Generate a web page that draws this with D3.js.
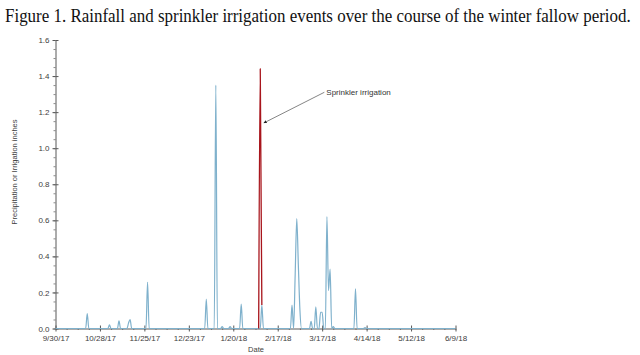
<!DOCTYPE html>
<html><head><meta charset="utf-8">
<script src="https://cdn.jsdelivr.net/npm/d3@7"></script>
<style>html,body{margin:0;padding:0;background:#fff;}svg{display:block;}</style>
</head><body>
<svg id="chart" width="640" height="355"></svg>
<script>
// ---- data ----
const titleText = "Figure 1. Rainfall and sprinkler irrigation events over the course of the winter fallow period.";
const yLabel = "Precipitation or Irrigation inches";
const xLabel = "Date";
const annotationText = "Sprinkler irrigation";
const xTickDates = ["2017-09-30","2017-10-28","2017-11-25","2017-12-23","2018-01-20","2018-02-17","2018-03-17","2018-04-14","2018-05-12","2018-06-09"];
const xTickLabels = ["9/30/17","10/28/17","11/25/17","12/23/17","1/20/18","2/17/18","3/17/18","4/14/18","5/12/18","6/9/18"];
const yTicks = [0,0.2,0.4,0.6,0.8,1.0,1.2,1.4,1.6];
const rainDates = ["2017-09-30","2017-10-19","2017-10-20","2017-10-21","2017-11-02","2017-11-03","2017-11-04",
  "2017-11-08","2017-11-09","2017-11-10","2017-11-14","2017-11-15","2017-11-16","2017-11-17",
  "2017-11-26","2017-11-27","2017-11-28","2018-01-02","2018-01-03","2018-01-04","2018-01-08","2018-01-09","2018-01-10",
  "2018-01-12","2018-01-13","2018-01-14","2018-01-17","2018-01-18","2018-01-19","2018-01-24","2018-01-25","2018-01-26",
  "2018-02-06","2018-02-07","2018-02-08","2018-02-25","2018-02-26","2018-02-27","2018-02-28","2018-03-01","2018-03-02","2018-03-03","2018-03-04",
  "2018-03-09","2018-03-10","2018-03-11","2018-03-12","2018-03-13","2018-03-14","2018-03-15","2018-03-16","2018-03-17","2018-03-18",
  "2018-03-19","2018-03-20","2018-03-21","2018-03-22","2018-03-23","2018-03-24","2018-03-25",
  "2018-04-06","2018-04-07","2018-04-08","2018-04-12","2018-04-13","2018-04-14","2018-06-09"];
const rainValues = [0,0,0.083,0,0,0.02,0,
  0,0.042,0,0,0.03,0.05,0,
  0,0.256,0,0,0.163,0,0,1.35,0,
  0,0.01,0,0,0.01,0,0,0.135,0,
  0,0.13,0,0,0.13,0,0.3,0.61,0.35,0.1,0,
  0,0.04,0,0,0.12,0,0,0.09,0.09,0,
  0,0.62,0.21,0.33,0,0.01,0,
  0,0.22,0,0,0.005,0,0];
const irrDates = ["2018-02-05","2018-02-06","2018-02-07"];
const irrValues = [0,1.44,0.13];
const annotAnchor = {date:"2018-02-07", value:1.14};
const annotTextPos = {date:"2018-03-19", value:1.31};

// ---- setup ----
const parse = d3.timeParse("%Y-%m-%d");
const svg = d3.select("#chart");
const mLeft = 55.5, mRight = 455.5, mTop = 40, mBottom = 328.5;
const x = d3.scaleTime().domain([parse("2017-09-30"), parse("2018-06-09")]).range([mLeft, mRight]);
const y = d3.scaleLinear().domain([0,1.6]).range([mBottom, mTop]);
const axisColor = "#595959";
const fontSans = "'Liberation Sans', Arial, sans-serif";

// title (natural width measured, then scaled horizontally to fit)
const title = svg.append("text").attr("x",0).attr("y",0)
  .attr("font-family","'Liberation Serif','Times New Roman',serif").attr("font-size",18.5)
  .attr("fill","#111").text(titleText);
const tw = title.node().getComputedTextLength();
title.attr("transform",`translate(5,22) scale(${Math.min(1, 626/tw)},1)`);

// y axis
const gy = svg.append("g").attr("transform",`translate(${mLeft},0)`);
gy.call(d3.axisLeft(y).tickValues(yTicks).tickFormat(d3.format(".1f")).tickSize(3).tickSizeOuter(0));
gy.select(".domain").attr("stroke",axisColor);
gy.selectAll(".tick line").attr("stroke",axisColor);
gy.selectAll(".tick text").attr("font-family",fontSans).attr("font-size",8).attr("fill","#404040").attr("x",-6);
const gy2 = svg.append("g").attr("transform",`translate(${mLeft},0)`);
gy2.call(d3.axisRight(y).tickValues(yTicks).tickSize(3).tickFormat(""));
gy2.select(".domain").remove(); gy2.selectAll(".tick line").attr("stroke",axisColor);
const gyMinor = svg.append("g").attr("transform",`translate(${mLeft},0)`);
gyMinor.call(d3.axisLeft(y).tickValues(d3.range(0,1.6001,0.05)).tickSize(2).tickFormat(""));
gyMinor.select(".domain").remove(); gyMinor.selectAll(".tick line").attr("stroke",axisColor).attr("stroke-width",0.7);

// x axis
const xTickVals = xTickDates.map(parse);
const gx = svg.append("g").attr("transform",`translate(0,${mBottom})`);
gx.call(d3.axisBottom(x).tickValues(xTickVals).tickFormat((d,i)=>xTickLabels[i]).tickSize(3).tickSizeOuter(0));
gx.select(".domain").attr("stroke",axisColor);
gx.selectAll(".tick line").attr("stroke",axisColor);
gx.selectAll(".tick text").attr("font-family",fontSans).attr("font-size",8).attr("fill","#404040").attr("y",7);
const gx2 = svg.append("g").attr("transform",`translate(0,${mBottom})`);
gx2.call(d3.axisTop(x).tickValues(xTickVals).tickSize(3).tickFormat(""));
gx2.select(".domain").remove(); gx2.selectAll(".tick line").attr("stroke",axisColor);
const gxMinor = svg.append("g").attr("transform",`translate(0,${mBottom})`);
gxMinor.call(d3.axisBottom(x).tickValues(d3.timeDay.range(parse("2017-09-30"), parse("2018-06-10"), 7)).tickSize(1.5).tickFormat(""));
gxMinor.select(".domain").remove(); gxMinor.selectAll(".tick line").attr("stroke",axisColor).attr("stroke-width",0.7);

// axis labels
svg.append("text").attr("transform","translate(17,172) rotate(-90)").attr("text-anchor","middle")
  .attr("font-family",fontSans).attr("font-size",7.5).attr("fill","#404040").text(yLabel);
svg.append("text").attr("x",256).attr("y",352).attr("text-anchor","middle")
  .attr("font-family",fontSans).attr("font-size",7.5).attr("fill","#404040").text(xLabel);

// lines
const line = d3.line().x(d=>x(d[0])).y(d=>y(d[1])).curve(d3.curveMonotoneX);
const rain = rainDates.map((d,i)=>[parse(d), rainValues[i]]);
const irr = irrDates.map((d,i)=>[parse(d), irrValues[i]]);
svg.append("path").datum(rain).attr("d",line).attr("fill","none").attr("stroke","#7fb1cc").attr("stroke-width",1.2);
svg.append("path").datum(irr).attr("d",line).attr("fill","none").attr("stroke","#a8151c").attr("stroke-width",1.3);

// annotation
svg.append("defs").append("marker").attr("id","ah").attr("viewBox","0 0 10 10").attr("refX",9).attr("refY",5)
  .attr("markerWidth",4).attr("markerHeight",4).attr("orient","auto")
  .append("path").attr("d","M0,0L10,5L0,10z").attr("fill","#222");
const ax0 = x(parse(annotTextPos.date)) - 1, ay0 = y(annotTextPos.value);
svg.append("line").attr("x1",ax0).attr("y1",ay0).attr("x2",x(parse(annotAnchor.date))+2).attr("y2",y(annotAnchor.value))
  .attr("stroke","#666").attr("stroke-width",0.8).attr("marker-end","url(#ah)");
svg.append("text").attr("x",x(parse(annotTextPos.date))+1).attr("y",y(annotTextPos.value)+2.5)
  .attr("font-family",fontSans).attr("font-size",8).attr("fill","#333").text(annotationText);
</script>
</body></html>
